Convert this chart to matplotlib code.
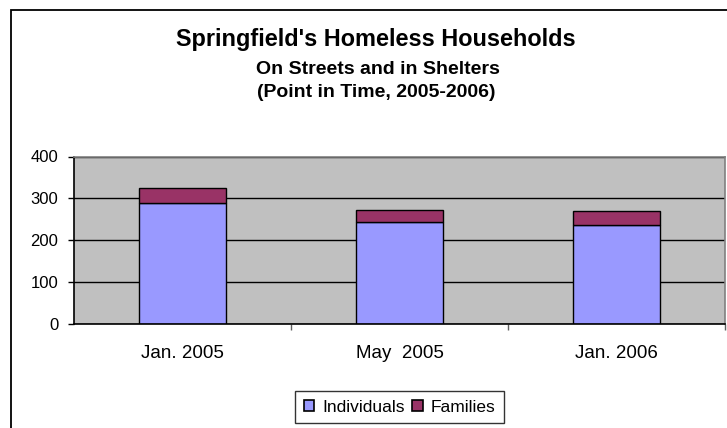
import matplotlib
matplotlib.use("Agg")
import matplotlib.pyplot as plt
from matplotlib.patches import Rectangle, Patch
import numpy as np

categories = ["Jan. 2005", "May  2005", "Jan. 2006"]
individuals = [288, 244, 236]
families = [36, 29, 34]
series_names = ["Individuals", "Families"]
y_ticks = [0, 100, 200, 300, 400]

plt.rcParams['font.family'] = ['Liberation Sans', 'DejaVu Sans']

W, H = 727, 428
fig = plt.figure(figsize=(W / 100, H / 100), dpi=100)
fig.patch.set_facecolor('white')

def fx(px):
    return px / W

def fy(py):
    return 1 - py / H

# outer chart border (cropped at right/bottom)
fig.add_artist(Rectangle((fx(11), fy(500)), 1.2, fy(10) - fy(500),
                         transform=fig.transFigure, fill=False,
                         edgecolor='black', linewidth=1.3))

ax = fig.add_axes([fx(74), fy(324), fx(725) - fx(74), fy(156.5) - fy(324)])
ax.set_facecolor('#C0C0C0')
ax.set_axisbelow(True)

x = np.arange(len(categories))
bw = 0.405
ax.bar(x, individuals, bw, color='#9999FF', edgecolor='black', linewidth=1.0,
       label=series_names[0])
ax.bar(x, families, bw, bottom=individuals, color='#993366', edgecolor='black',
       linewidth=1.0, label=series_names[1])

ax.set_xlim(-0.5, 2.5)
ax.set_ylim(0, 400)
ax.set_yticks(y_ticks)
ax.set_yticklabels([str(v) for v in y_ticks], fontsize=12)
ax.yaxis.grid(True, color='black', linewidth=1.0)
ax.tick_params(axis='y', length=4.3, width=1, direction='out', pad=7, colors='black')

ax.set_xticks(x)
ax.set_xticklabels(categories, fontsize=13.5)
ax.tick_params(axis='x', which='major', length=0, pad=15)
ax.set_xticks([0.5, 1.5, 2.5], minor=True)
ax.tick_params(axis='x', which='minor', length=4.3, width=1, direction='out',
               color='#606060')

for s in ['left', 'bottom']:
    ax.spines[s].set_color('black')
    ax.spines[s].set_linewidth(1.2)
for s in ['top', 'right']:
    ax.spines[s].set_color('#808080')
    ax.spines[s].set_linewidth(1.2)

# titles
fig.text(fx(376), fy(46), "Springfield's Homeless Households", ha='center',
         va='baseline', fontsize=16.9, fontweight='bold')
fig.text(fx(378), fy(74), "On Streets and in Shelters", ha='center',
         va='baseline', fontsize=14, fontweight='bold')
fig.text(fx(376), fy(97), "(Point in Time, 2005-2006)", ha='center',
         va='baseline', fontsize=14, fontweight='bold')

handles = [Patch(facecolor='#9999FF', edgecolor='black', linewidth=1.2),
           Patch(facecolor='#993366', edgecolor='black', linewidth=1.2)]
leg = fig.legend(handles, series_names, loc='center',
                 bbox_to_anchor=(fx(399.5), fy(407)), ncol=2, fontsize=12.5,
                 frameon=True, fancybox=False, edgecolor='black',
                 handlelength=0.6, handleheight=0.6, handletextpad=0.45,
                 columnspacing=0.45, borderpad=0.5, borderaxespad=0)
leg.get_frame().set_linewidth(1.0)

fig.savefig('out.png', dpi=100, facecolor='white')
